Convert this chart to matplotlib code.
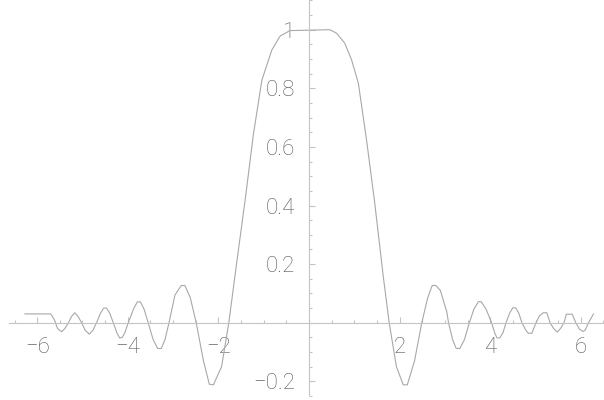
import numpy as np
import matplotlib
matplotlib.use('Agg')
from matplotlib import pyplot as plt
from matplotlib.ticker import MultipleLocator, FixedLocator, FuncFormatter

# sampled curve (x, f(x))
x_vals = [-6.27, -5.70, -5.62, -5.55, -5.46, -5.39, -5.31, -5.24, -5.17, -5.10,
          -5.02, -4.94, -4.85, -4.77, -4.69, -4.60, -4.53, -4.47, -4.40, -4.32,
          -4.24, -4.18, -4.12, -4.06, -3.99, -3.87, -3.79, -3.72, -3.64, -3.55,
          -3.44, -3.34, -3.26, -3.18, -3.09, -2.96, -2.82, -2.74, -2.62, -2.49,
          -2.33, -2.20, -2.11, -1.93, -1.77, -1.60, -1.40, -1.23, -1.04, -0.82,
          -0.64, -0.42, 0.46, 0.61, 0.79, 0.94, 1.09, 1.27, 1.45, 1.64,
          1.77, 1.93, 2.08, 2.17, 2.33, 2.49, 2.62, 2.72, 2.80, 2.90,
          3.04, 3.08, 3.17, 3.25, 3.33, 3.43, 3.54, 3.64, 3.74, 3.80,
          3.91, 4.03, 4.10, 4.15, 4.21, 4.28, 4.35, 4.43, 4.50, 4.56,
          4.63, 4.70, 4.78, 4.84, 4.92, 5.01, 5.09, 5.17, 5.25, 5.32,
          5.40, 5.48, 5.55, 5.63, 5.68, 5.81, 5.89, 5.97, 6.05, 6.10,
          6.17, 6.28]
y_vals = [0.030, 0.030, 0.010, -0.020, -0.031, -0.020, 0.0, 0.022, 0.034, 0.022,
          0.0, -0.026, -0.039, -0.026, 0.0, 0.033, 0.050, 0.050, 0.033, 0.0,
          -0.035, -0.052, -0.050, -0.032, 0.0, 0.048, 0.071, 0.071, 0.046, 0.0,
          -0.058, -0.088, -0.088, -0.058, 0.0, 0.094, 0.127, 0.127, 0.085, 0.0,
          -0.130, -0.210, -0.212, -0.150, 0.0, 0.20, 0.43, 0.64, 0.828, 0.931,
          0.978, 0.997, 1.0, 0.988, 0.954, 0.897, 0.817, 0.624, 0.41, 0.157,
          0.0, -0.150, -0.212, -0.212, -0.130, 0.0, 0.085, 0.127, 0.127, 0.110,
          0.038, 0.0, -0.058, -0.088, -0.088, -0.058, 0.0, 0.046, 0.072, 0.072,
          0.046, 0.0, -0.035, -0.052, -0.052, -0.035, 0.0, 0.033, 0.051, 0.051,
          0.033, 0.0, -0.024, -0.036, -0.036, 0.0, 0.024, 0.034, 0.034, 0.0,
          -0.020, -0.032, -0.020, 0.0, 0.029, 0.029, 0.0, -0.022, -0.030, -0.025,
          0.0, 0.030]

x_major = [-6, -4, -2, 2, 4, 6]
y_major = [-0.2, 0.2, 0.4, 0.6, 0.8, 1.0]

axis_col = '#c4c4c4'
text_col = '#5a5a5a'
plt.rcParams['font.family'] = ['Roboto', 'DejaVu Sans']

fig = plt.figure(figsize=(6.04, 4.00), dpi=100)
ax = fig.add_axes([0, 0, 1, 1])
ax.plot(x_vals, y_vals, color='#a8a8a8', lw=0.8)

ax.set_xlim(-6.821, 6.512)
ax.set_ylim(-0.2638, 1.1014)

for side in ['top', 'right']:
    ax.spines[side].set_visible(False)
ax.spines['left'].set_position(('data', 0))
ax.spines['bottom'].set_position(('data', 0))
ax.spines['bottom'].set_bounds(-6.62, 6.512)
ax.spines['left'].set_bounds(-0.247, 1.1014)
for side in ['left', 'bottom']:
    ax.spines[side].set_color(axis_col)
    ax.spines[side].set_linewidth(0.8)

ax.xaxis.set_major_locator(FixedLocator(x_major))
ax.xaxis.set_minor_locator(MultipleLocator(0.5))
ax.yaxis.set_major_locator(FixedLocator(y_major))
ax.yaxis.set_minor_locator(MultipleLocator(0.05))
fmt = FuncFormatter(lambda v, p: ('%g' % round(v, 2)).replace('-', '\u2212'))
ax.xaxis.set_major_formatter(fmt)
ax.yaxis.set_major_formatter(fmt)

ax.tick_params(which='major', direction='in', length=4, width=0.8,
               color=axis_col, labelcolor=text_col, labelsize=16, pad=10)
ax.tick_params(which='minor', direction='in', length=2, width=0.8, color=axis_col)
for lab in ax.get_xticklabels() + ax.get_yticklabels():
    lab.set_fontweight('light')

fig.savefig('out.png', dpi=100)
